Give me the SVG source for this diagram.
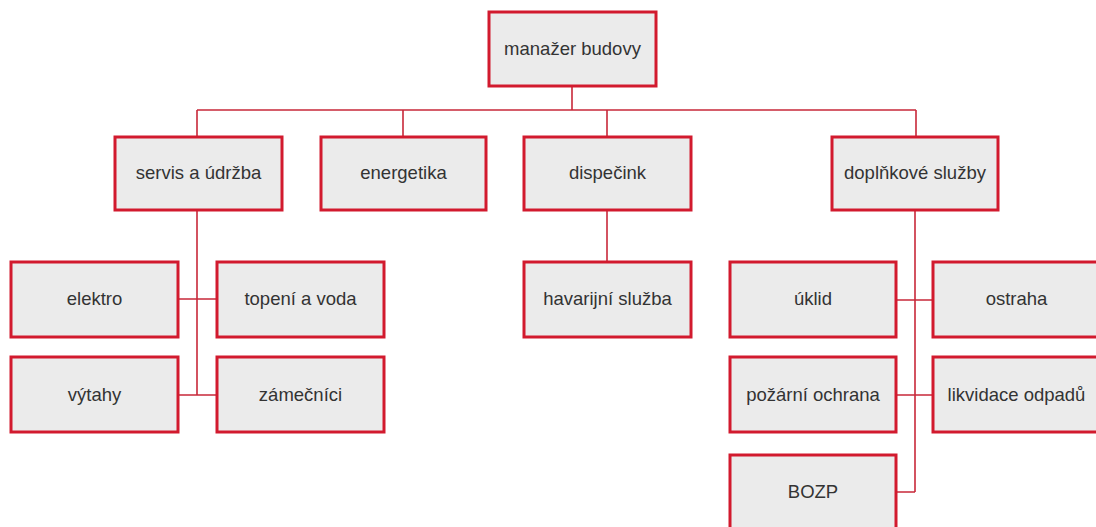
<svg xmlns="http://www.w3.org/2000/svg" width="1096" height="527" viewBox="0 0 1096 527">
<style>
.box{fill:#ebebeb;stroke:#d21a2e;stroke-width:3}
.lbl{font-family:"Liberation Sans",Arial,sans-serif;font-size:18.5px;fill:#333;text-anchor:middle}
.con{fill:none;stroke:#c8283a;stroke-width:1.6}
</style>
<rect width="1096" height="527" fill="#ffffff"/>
<g id="connectors">
<path class="con" d="M572,86V110M197,110H916M197,110V137M403,110V137M607,110V137M916,110V137"/>
<path class="con" d="M197,210V395M178,299H217M178,395H217"/>
<path class="con" d="M607,210V262"/>
<path class="con" d="M915,210V492M896,300H933M896,395H933M896,492H915"/>
</g>
<g id="n-manazer"><rect class="box" x="489" y="12" width="167" height="74"/><text class="lbl" x="572.5" y="55">manažer budovy</text></g>
<g id="n-servis"><rect class="box" x="115" y="137" width="167" height="73"/><text class="lbl" x="198.5" y="179">servis a údržba</text></g>
<g id="n-energetika"><rect class="box" x="321" y="137" width="165" height="73"/><text class="lbl" x="403.5" y="179">energetika</text></g>
<g id="n-dispecink"><rect class="box" x="524" y="137" width="167" height="73"/><text class="lbl" x="607.5" y="179">dispečink</text></g>
<g id="n-doplnkove"><rect class="box" x="832" y="137" width="166" height="73"/><text class="lbl" x="915" y="179">doplňkové služby</text></g>
<g id="n-elektro"><rect class="box" x="11" y="262" width="167" height="75"/><text class="lbl" x="94.5" y="305">elektro</text></g>
<g id="n-topeni"><rect class="box" x="217" y="262" width="167" height="75"/><text class="lbl" x="300.5" y="305">topení a voda</text></g>
<g id="n-vytahy"><rect class="box" x="11" y="357" width="167" height="75"/><text class="lbl" x="94.5" y="401">výtahy</text></g>
<g id="n-zamecnici"><rect class="box" x="217" y="357" width="167" height="75"/><text class="lbl" x="300.5" y="401">zámečníci</text></g>
<g id="n-havarijni"><rect class="box" x="524" y="262" width="167" height="75"/><text class="lbl" x="607.5" y="305">havarijní služba</text></g>
<g id="n-uklid"><rect class="box" x="730" y="262" width="166" height="75"/><text class="lbl" x="813" y="305">úklid</text></g>
<g id="n-ostraha"><rect class="box" x="933" y="262" width="167" height="75"/><text class="lbl" x="1016.5" y="305">ostraha</text></g>
<g id="n-pozarni"><rect class="box" x="730" y="357" width="166" height="75"/><text class="lbl" x="813" y="401">požární ochrana</text></g>
<g id="n-likvidace"><rect class="box" x="933" y="357" width="167" height="75"/><text class="lbl" x="1016.5" y="401">likvidace odpadů</text></g>
<g id="n-bozp"><rect class="box" x="730" y="455" width="166" height="80"/><text class="lbl" x="813" y="498">BOZP</text></g>
</svg>
